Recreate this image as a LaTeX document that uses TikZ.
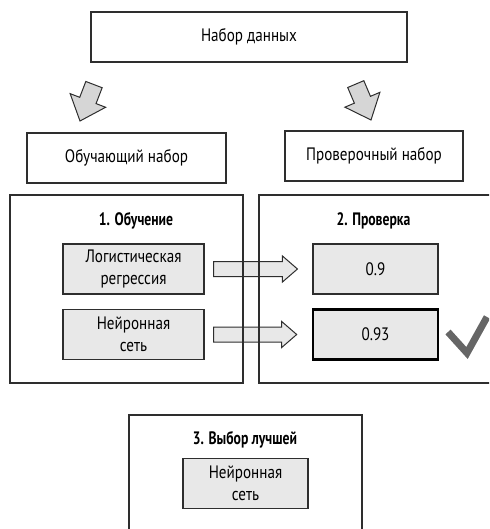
\documentclass[tikz,border=0pt]{standalone}
\usepackage{fontspec}
\setmainfont{PT Sans}[FakeStretch=0.84]
\newfontfamily\titlefamily{PT Sans}[FakeStretch=0.76]
\usetikzlibrary{calc}
\definecolor{edge}{HTML}{2E2E2E}
\definecolor{boxfill}{HTML}{E8E8E8}
\definecolor{arrowfill}{HTML}{D6D6D6}
\definecolor{checkcol}{HTML}{666666}
\tikzset{
  plainbox/.style={draw=edge, line width=1.1pt, fill=white, minimum width=#1, minimum height=50pt, inner sep=0pt, font=\fontsize{18}{21}\selectfont},
  stagebox/.style={draw=edge, line width=1.2pt, inner sep=0pt},
  modelbox/.style={draw=edge, line width=1.1pt, fill=boxfill, minimum width=#1, minimum height=50pt, inner sep=0pt, align=center, font=\fontsize{18}{22}\selectfont},
  titletext/.style={inner sep=0pt, font=\titlefamily\bfseries\fontsize{18}{21}\selectfont},
  blockarrow/.style={draw=edge, line width=1pt, fill=arrowfill, line join=miter},
  harrow/.style={draw=edge, line width=1pt, fill=boxfill, line join=miter},
  checkmark/.style={draw=checkcol, line width=7pt, line join=miter}
}
\begin{document}
\begin{tikzpicture}[x=1pt,y=-1pt]
\useasboundingbox (0,0) rectangle (489,529);
\clip (0,0) rectangle (489,529);
% top nodes
\node[plainbox=316pt] (data) at (249,37) {Набор данных};
\node[plainbox=199pt] (train) at (126.5,158) {Обучающий набор};
\node[plainbox=178pt] (val) at (374,156) {Проверочный набор};
% diagonal block arrows
\begin{scope}[shift={(80,121)}, rotate=-21]
  \draw[blockarrow] (0,0) -- (19,-22) -- (8.75,-22) -- (8.75,-39) -- (-8.75,-39) -- (-8.75,-22) -- (-19,-22) -- cycle;
\end{scope}
\begin{scope}[shift={(371,120)}, rotate=23]
  \draw[blockarrow] (0,0) -- (19,-22) -- (8.75,-22) -- (8.75,-39) -- (-8.75,-39) -- (-8.75,-22) -- (-19,-22) -- cycle;
\end{scope}
% inner boxes
\node[modelbox=141pt] (lr) at (133.5,269) {Логистическая\\регрессия};
\node[modelbox=141pt] (nn) at (133.5,334.5) {Нейронная\\сеть};
\node[modelbox=125pt] (v1) at (375.5,269) {0.9};
\node[modelbox=125pt, line width=2.6pt, draw=black] (v2) at (375.5,334.5) {0.93};
% hollow arrows
\coordinate (a1s) at ($(lr.east)+(9,0)$);
\coordinate (a1e) at ($(v1.west)+(-15,0)$);
\coordinate (a2s) at ($(nn.east)+(9,0)$);
\coordinate (a2e) at ($(v2.west)+(-15,0)$);
\draw[harrow] ($(a1s)+(0,-7.5)$) -- ($(a1e)+(-15,-7.5)$) -- ($(a1e)+(-15,-13)$) -- (a1e) -- ($(a1e)+(-15,13)$) -- ($(a1e)+(-15,7.5)$) -- ($(a1s)+(0,7.5)$) -- cycle;
\draw[harrow] ($(a2s)+(0,-7.5)$) -- ($(a2e)+(-15,-7.5)$) -- ($(a2e)+(-15,-13)$) -- (a2e) -- ($(a2e)+(-15,13)$) -- ($(a2e)+(-15,7.5)$) -- ($(a2s)+(0,7.5)$) -- cycle;
% stage boxes
\node[stagebox, minimum width=233pt, minimum height=188pt] (stage1) at (126.5,289) {};
\node[stagebox, minimum width=236pt, minimum height=188pt] (stage2) at (377,289) {};
\node[titletext] (t1) at (136,221) {1. Обучение};
\node[titletext] (t2) at (373.5,221) {2. Проверка};
% check mark
\draw[checkmark] (448,332) -- (467,353) -- (487,317);
% stage 3
\node[stagebox, minimum width=233pt, minimum height=130pt] (stage3) at (245.5,480) {};
\node[titletext] (t3) at (245,440) {3. Выбор лучшей};
\node[modelbox=125pt] (best) at (245.5,483.5) {Нейронная\\сеть};
\end{tikzpicture}
\end{document}
